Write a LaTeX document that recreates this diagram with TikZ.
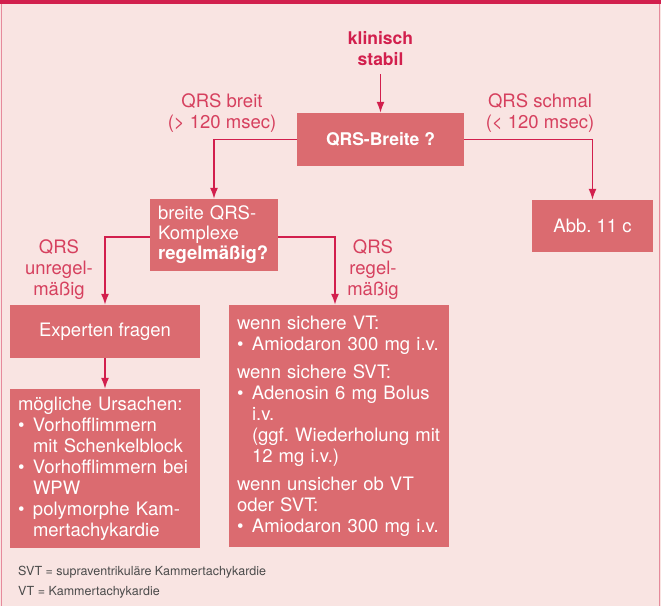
\documentclass[tikz,border=0pt]{standalone}
\usepackage{fontspec}
\setmainfont{TeX Gyre Heros}
\usetikzlibrary{arrows.meta,positioning}
\frenchspacing

\definecolor{bgpink}{HTML}{F9E4E2}
\definecolor{boxred}{HTML}{DB6B70}
\definecolor{crimson}{HTML}{D21F4D}
\definecolor{labelred}{HTML}{D6405E}
\definecolor{edgepink}{HTML}{E68A9B}
\definecolor{notegray}{HTML}{4A4A4A}

\newcommand{\bul}{\makebox[15pt][l]{\textbullet}}
\newcommand{\hang}{\hspace*{15pt}}

\begin{document}
\begin{tikzpicture}[
            x=1pt, y=-1pt,
            every node/.append style={inner sep=0pt},
            box/.style={fill=boxred, text=white, font=\fontsize{18.5}{21}\selectfont},
            listbox/.style={box, align=left, inner xsep=8pt},
            lbl/.style={text=labelred, align=center, font=\fontsize{18.5}{21}\selectfont},
            note/.style={text=notegray, anchor=base west, font=\fontsize{12.5}{20}\selectfont},
            flow/.style={crimson, line width=1.6pt, -{Latex[length=11pt,width=8pt]}}
        ]
            \useasboundingbox (0,0) rectangle (661,606);
            \fill[bgpink] (0,4) rectangle (661,606);
            \fill[crimson] (0,0) rectangle (661,4);
            \draw[edgepink, line width=1.2pt] (1.5,4) -- (1.5,606);
            \draw[edgepink, line width=1pt] (659.5,4) -- (659.5,606);

            \node[text=crimson, align=center, inner sep=8pt,
                  font=\fontsize{17.5}{21}\selectfont\bfseries] (stabil) at (380.5,49) {klinisch\\stabil};
            \node[box, minimum width=167pt, minimum height=53pt,
                  font=\fontsize{17.5}{21}\selectfont\bfseries] (breite) at (380.5,139.5) {QRS-Breite ?};
            \node[box, minimum width=121pt, minimum height=52pt] (abb) at (592.5,226) {Abb. 11 c};
            \node[listbox, text width=112pt, minimum height=72pt,
                  font=\fontsize{18.5}{20}\selectfont] (komplex) at (214,235)
                {breite QRS-\\Komplexe\\\textbf{regelmäßig?}};
            \node[box, minimum width=190pt, minimum height=53pt] (experten) at (105,331.5) {Experten fragen};
            \node[listbox, text width=174pt, minimum height=159pt] (ursachen) at (105,468.5)
                {mögliche Ursachen:\\
                 \bul Vorhofflimmern\\
                 \hang mit Schenkelblock\\
                 \bul Vorhofflimmern bei\\
                 \hang WPW\\
                 \bul polymorphe Kam-\\
                 \hang mertachykardie};
            \node[listbox, text width=204pt, minimum height=242pt] (therapie) at (339,426)
                {wenn sichere VT:\\
                 \bul Amiodaron 300 mg i.v.\\[7pt]
                 wenn sichere SVT:\\
                 \bul Adenosin 6 mg Bolus\\
                 \hang i.v.\\
                 \hang\mbox{(ggf. Wiederholung mit}\\
                 \hang 12 mg i.v.)\\[7pt]
                 wenn unsicher ob VT\\
                 oder SVT:\\
                 \bul Amiodaron 300 mg i.v.};

            \node[lbl] (breit)   at (222,113) {QRS breit\\(> 120 msec)};
            \node[lbl] (schmal)  at (540,113) {QRS schmal\\(< 120 msec)};
            \node[lbl] (unregel) at (59,270)  {QRS\\unregel-\\mäßig};
            \node[lbl] (regel)   at (373,270) {QRS\\regel-\\mäßig};

            \node[note] (svt) at (18,575) {SVT = supraventrikuläre Kammertachykardie};
            \node[note] (vt)  at (18,595) {VT = Kammertachykardie};

            \draw[flow] (stabil) -- (breite);
            \draw[flow] (breite.west) -| (komplex.north);
            \draw[flow] (breite.east) -| (abb.north);
            \draw[flow] ([yshift=-2pt]komplex.west) -| (experten.north);
            \draw[flow] ([yshift=-2pt]komplex.east) -| ([xshift=-4pt]therapie.north);
            \draw[flow] (experten) -- (ursachen);
        \end{tikzpicture}
\end{document}
